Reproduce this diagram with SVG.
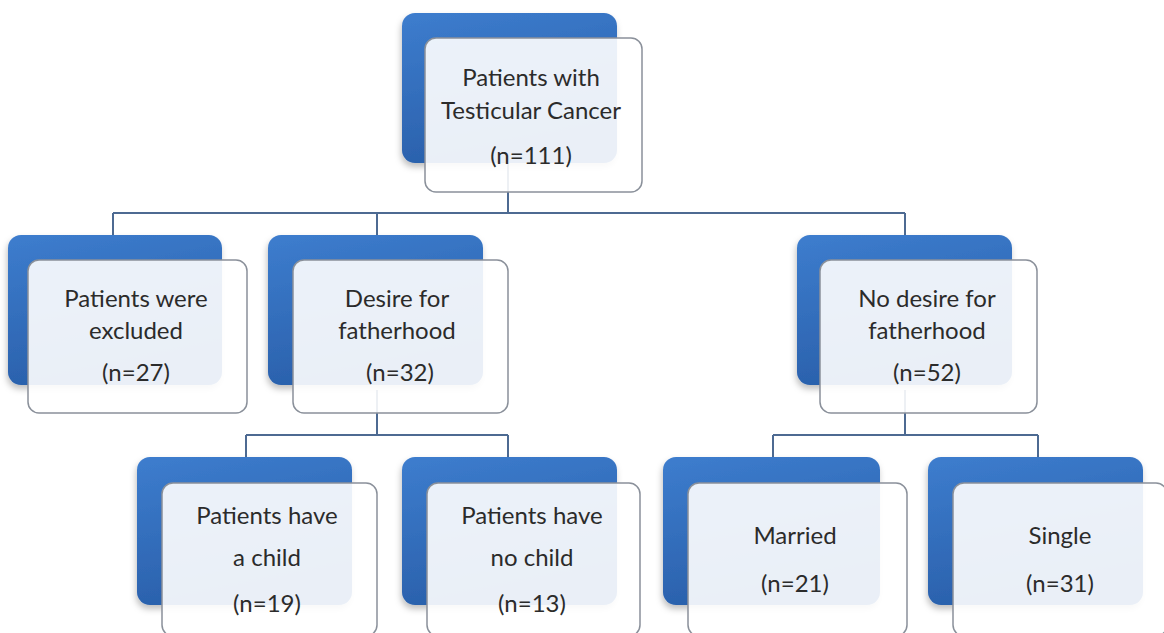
<svg xmlns="http://www.w3.org/2000/svg" width="1164" height="633" viewBox="0 0 1164 633">
<style>
.back{fill:url(#blueGrad);filter:url(#sh)}
.front{fill:#ffffff;fill-opacity:0.9;stroke:#8a909a;stroke-width:1.5}
.t{font-family:Lato,"Liberation Sans",sans-serif;font-size:24px;fill:#2b2b2b;text-anchor:middle}
.c{fill:none;stroke:#4d6a92;stroke-width:2}
</style>
<defs>
<linearGradient id="blueGrad" x1="0" y1="0" x2="0.3" y2="1">
<stop offset="0" stop-color="#3d7dce"/>
<stop offset="1" stop-color="#2a60ab"/>
</linearGradient>
<filter id="sh" x="-10%" y="-10%" width="120%" height="125%">
<feDropShadow dx="-1" dy="4" stdDeviation="3" flood-color="#000" flood-opacity="0.25"/>
</filter>
</defs>
<rect width="1164" height="633" fill="#ffffff"/>
<g id="connectors">
<path class="c" d="M508 160V213M113 213H905M113 213V237M377 213V237M905 213V237"/>
<path class="c" d="M377 390V435M246 435H508M246 435V459M508 435V459"/>
<path class="c" d="M905 390V435M773 435H1038M773 435V459M1038 435V459"/>
</g>
<g id="n-top">
<rect class="back" x="402" y="13" width="215" height="150" rx="13"/>
<rect class="front" x="425" y="38" width="217" height="154" rx="11"/>
<text class="t" x="531" y="86">Patients with</text>
<text class="t" x="531" y="119">Testicular Cancer</text>
<text class="t" x="531" y="164">(n=111)</text>
</g>
<g id="n-excluded">
<rect class="back" x="8" y="235" width="214" height="150" rx="13"/>
<rect class="front" x="28" y="260" width="219" height="153" rx="11"/>
<text class="t" x="136" y="307">Patients were</text>
<text class="t" x="136" y="339">excluded</text>
<text class="t" x="136" y="381">(n=27)</text>
</g>
<g id="n-desire">
<rect class="back" x="268" y="235" width="215" height="150" rx="13"/>
<rect class="front" x="293" y="260" width="215" height="153" rx="11"/>
<text class="t" x="397" y="307">Desire for</text>
<text class="t" x="397" y="339">fatherhood</text>
<text class="t" x="400" y="381">(n=32)</text>
</g>
<g id="n-nodesire">
<rect class="back" x="797" y="235" width="215" height="150" rx="13"/>
<rect class="front" x="820" y="260" width="217" height="153" rx="11"/>
<text class="t" x="927" y="307">No desire for</text>
<text class="t" x="927" y="339">fatherhood</text>
<text class="t" x="927" y="381">(n=52)</text>
</g>
<g id="n-child">
<rect class="back" x="137" y="457" width="215" height="148" rx="13"/>
<rect class="front" x="162" y="483" width="215" height="153" rx="11"/>
<text class="t" x="267" y="524">Patients have</text>
<text class="t" x="267" y="566">a child</text>
<text class="t" x="267" y="612">(n=19)</text>
</g>
<g id="n-nochild">
<rect class="back" x="402" y="457" width="215" height="148" rx="13"/>
<rect class="front" x="427" y="483" width="213" height="153" rx="11"/>
<text class="t" x="532" y="524">Patients have</text>
<text class="t" x="532" y="566">no child</text>
<text class="t" x="532" y="612">(n=13)</text>
</g>
<g id="n-married">
<rect class="back" x="663" y="457" width="217" height="148" rx="13"/>
<rect class="front" x="688" y="483" width="219" height="153" rx="11"/>
<text class="t" x="795" y="544">Married</text>
<text class="t" x="795" y="592">(n=21)</text>
</g>
<g id="n-single">
<rect class="back" x="928" y="457" width="215" height="148" rx="13"/>
<rect class="front" x="953" y="483" width="214" height="153" rx="11"/>
<text class="t" x="1060" y="544">Single</text>
<text class="t" x="1060" y="592">(n=31)</text>
</g>
</svg>
